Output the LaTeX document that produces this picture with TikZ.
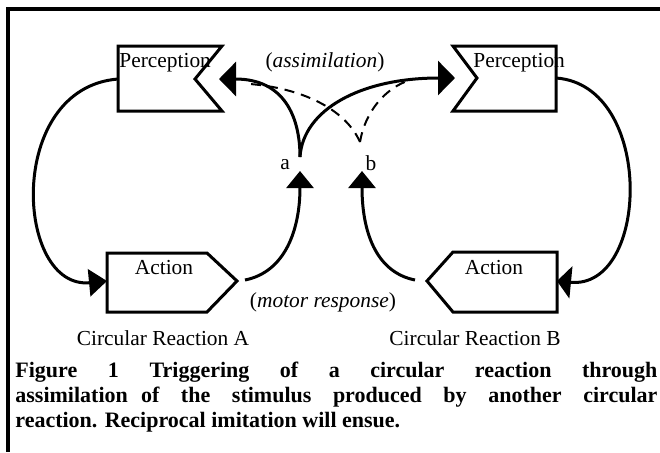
\documentclass[tikz,border=0pt]{standalone}
\usepackage{fontspec}
\setmainfont{Liberation Serif}
\usetikzlibrary{arrows.meta}
\begin{document}
\begin{tikzpicture}[x=0.5pt,y=-0.5pt,
  box/.style={line width=1.5pt, line join=miter, fill=white},
  conn/.style={line width=1.5pt},
  dashconn/.style={line width=1pt, dash pattern=on 5pt off 3.5pt},
  sidetip/.style={-{Triangle[length=8.5pt,width=17pt]}},
  uptip/.style={-{Triangle[length=8.5pt,width=13.5pt]}},
  acttipA/.style={-{Triangle[length=9pt,width=13.5pt]}},
  acttipB/.style={-{Triangle[length=7pt,width=16pt]}},
  lbl/.style={font=\fontsize{10.7}{12}\selectfont, inner sep=0pt},
  capline/.style={font=\fontsize{11}{12.5}\selectfont\bfseries, inner sep=0pt, anchor=base west}]
\useasboundingbox (0,0) rectangle (660,452);
\draw[line width=1.6pt] (660,9) -- (8,9) -- (8,452);

% boxes
\draw[box] (118,46) -- (222,46) -- (195,79) -- (222,111) -- (118,111) -- cycle;
\draw[box] (453,46) -- (556,46) -- (556,111) -- (453,111) -- (477,78) -- cycle;
\draw[box] (107,253) -- (207,253) -- (237,281) -- (207,312) -- (107,312) -- cycle;
\draw[box] (453,252) -- (557,252) -- (557,312) -- (453,312) -- (427,281) -- cycle;

\node[lbl, anchor=base west] (pAtext) at (119,67) {Perception};
\node[lbl, anchor=base west] (pBtext) at (473,67) {Perception};
\node[lbl] (aAtext) at (164,268) {Action};
\node[lbl] (aBtext) at (494,268) {Action};

% ports
\coordinate (pAin) at (219,79);
\coordinate (pAout) at (118,79);
\coordinate (pBin) at (455,78);
\coordinate (pBout) at (556,78);
\coordinate (aAin) at (107,281);
\coordinate (aAout) at (245,280);
\coordinate (aBin) at (557,281);
\coordinate (aBout) at (415,280);
\coordinate (tipA) at (300,171);
\coordinate (tipB) at (362,171);
\coordinate (forkA) at (300,157);
\coordinate (forkB) at (360,142);
\coordinate (dashL) at (250,84);
\coordinate (dashR) at (410,80);

% loops
\draw[conn, acttipA] (pAout) .. controls (5,88) and (15,290) .. (aAin);
\draw[conn, acttipB] (pBout) .. controls (655,85) and (650,290) .. (aBin);
\draw[conn, uptip] (aAout) .. controls (285,272) and (300,230) .. (tipA);
\draw[conn, uptip] (aBout) .. controls (375,272) and (362,230) .. (tipB);

% assimilation fork
\draw[conn, sidetip] (forkA) .. controls (300,118) and (285,79) .. (pAin);
\draw[conn, sidetip] (forkA) .. controls (303,110) and (360,78) .. (pBin);
\draw[dashconn] (forkB) .. controls (345,108) and (300,88) .. (dashL);
\draw[dashconn] (forkB) .. controls (365,112) and (385,88) .. (dashR);

\node[lbl] (la) at (285,165) {a};
\node[lbl] (lb) at (371,163) {b};
\node[lbl] (assim) at (325,62) {(\textit{assimilation})};
\node[lbl] (motor) at (323,302) {(\textit{motor response})};
\node[lbl] (crA) at (163,338) {Circular Reaction A};
\node[lbl] (crB) at (475,338) {Circular Reaction B};

\node[capline] (cap1) at (15,377) {\makebox[321pt][s]{Figure 1\hspace{1.4em}Triggering of a circular reaction through}};
\node[capline] (cap2) at (15,402) {\makebox[321pt][s]{assimilation\hspace{0.6em}of the stimulus produced by another circular}};
\node[capline] (cap3) at (15,427) {reaction. Reciprocal imitation will ensue.};
\end{tikzpicture}
\end{document}
